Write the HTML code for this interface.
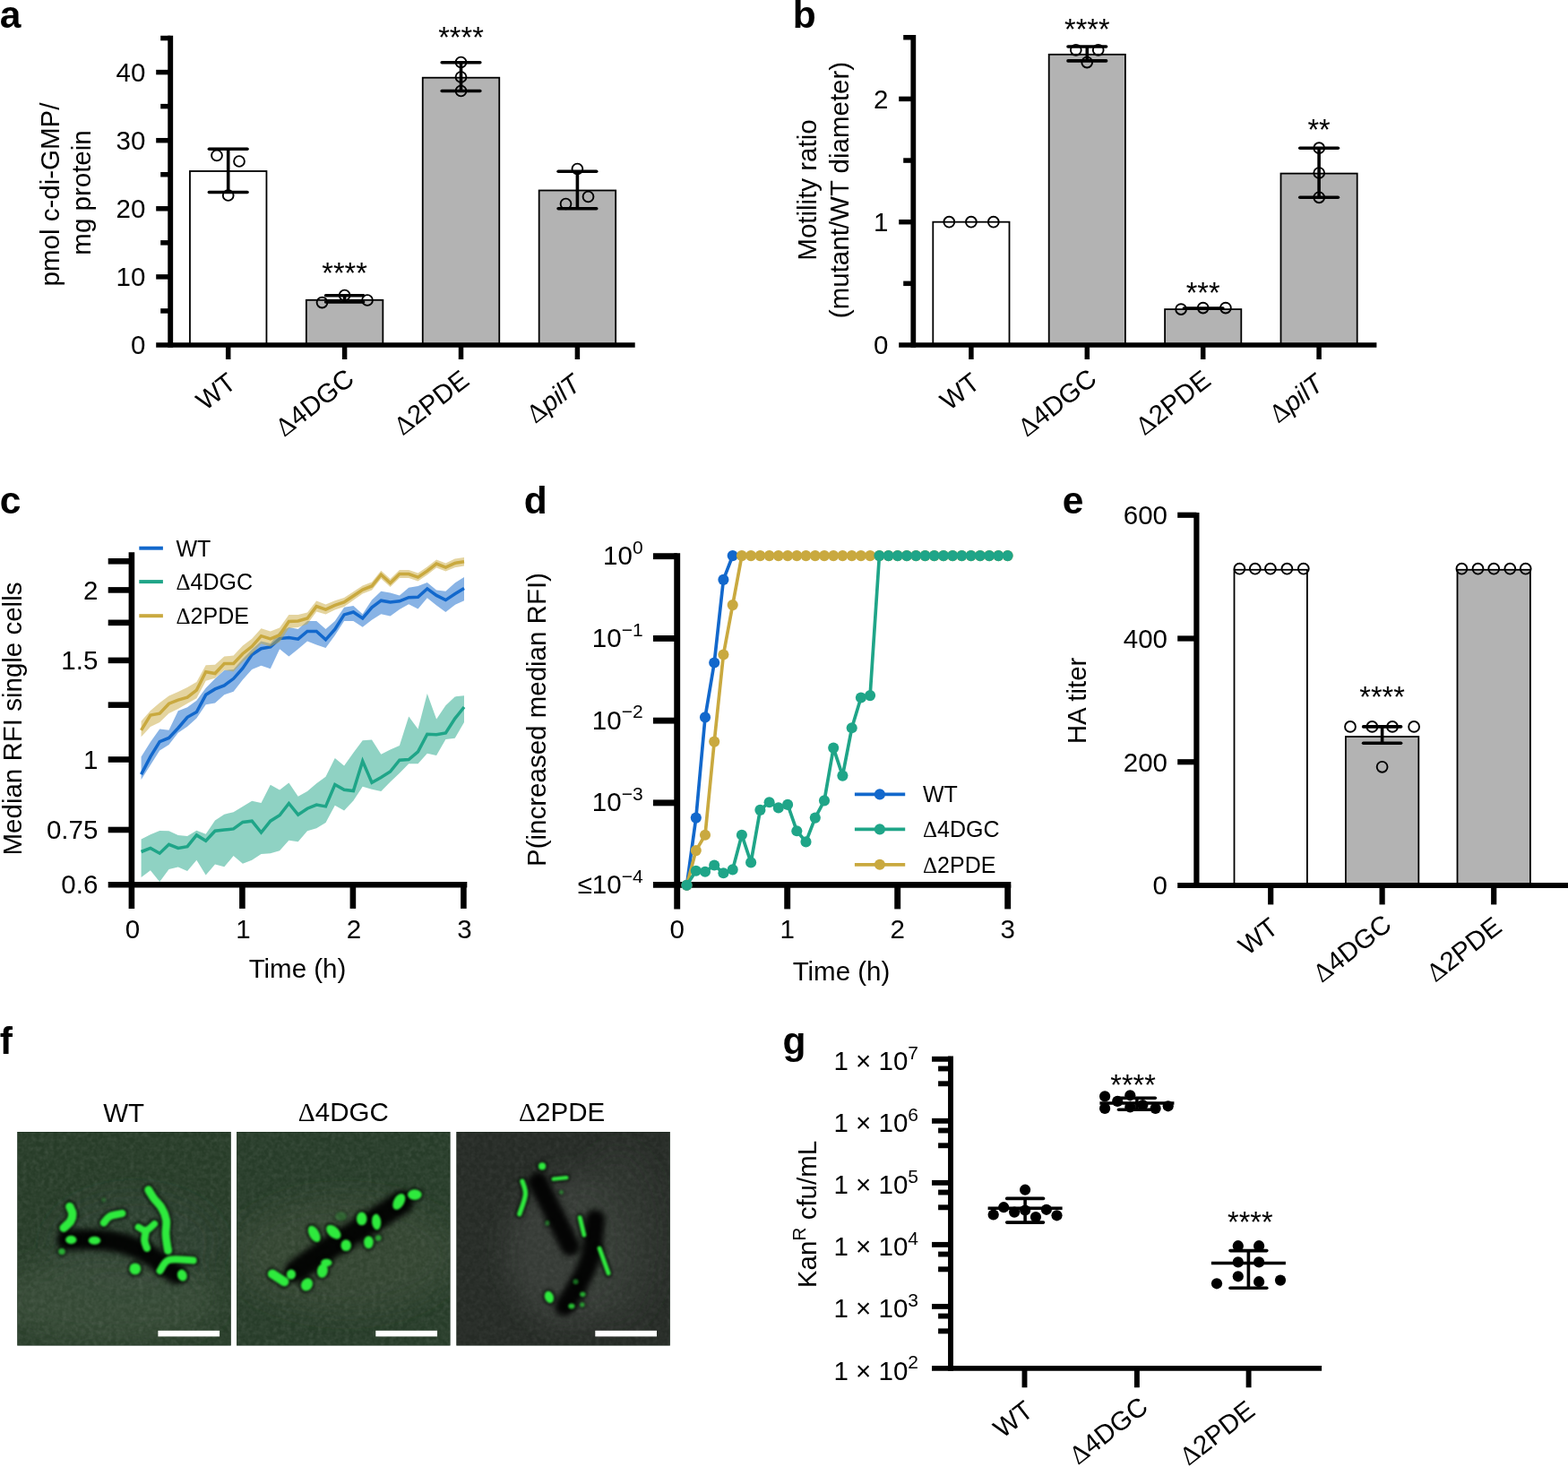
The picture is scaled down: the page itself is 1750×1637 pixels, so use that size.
<!DOCTYPE html>
<html lang="en"><head><meta charset="utf-8"><title>Figure</title>
<style>
html,body{margin:0;padding:0;background:#fff;}
body{width:1750px;height:1637px;overflow:hidden;}
svg{display:block;}
text{font-family:"Liberation Sans",sans-serif;fill:#000;}
</style></head><body>
<svg width="1750" height="1637" viewBox="0 0 1750 1637">
<rect width="1750" height="1637" fill="#fff"/>
<text x="-0.30" y="30.80" font-size="42.5" text-anchor="start" font-weight="bold" >a</text>
<text x="884.70" y="30.80" font-size="42.5" text-anchor="start" font-weight="bold" >b</text>
<text x="-0.30" y="572.90" font-size="42.5" text-anchor="start" font-weight="bold" >c</text>
<text x="584.80" y="572.90" font-size="42.5" text-anchor="start" font-weight="bold" >d</text>
<text x="1185.80" y="572.90" font-size="42.5" text-anchor="start" font-weight="bold" >e</text>
<text x="-0.20" y="1175.80" font-size="42.5" text-anchor="start" font-weight="bold" >f</text>
<text x="873.60" y="1175.80" font-size="42.5" text-anchor="start" font-weight="bold" >g</text>
<rect x="211.95" y="191.00" width="85.50" height="194.00" fill="#fff" stroke="#000" stroke-width="1.8"/>
<rect x="341.85" y="334.80" width="85.50" height="50.20" fill="#b3b3b3" stroke="#000" stroke-width="1.8"/>
<rect x="471.75" y="86.70" width="85.50" height="298.30" fill="#b3b3b3" stroke="#000" stroke-width="1.8"/>
<rect x="601.65" y="212.50" width="85.50" height="172.50" fill="#b3b3b3" stroke="#000" stroke-width="1.8"/>
<line x1="190.20" y1="39.70" x2="190.20" y2="387.75" stroke="#000" stroke-width="5.9" stroke-linecap="butt"/>
<line x1="174.20" y1="385.00" x2="708.70" y2="385.00" stroke="#000" stroke-width="5.5" stroke-linecap="butt"/>
<text x="162.30" y="395.30" font-size="29.5" text-anchor="end" >0</text>
<line x1="179.20" y1="346.95" x2="190.20" y2="346.95" stroke="#000" stroke-width="5.5" stroke-linecap="butt"/>
<line x1="174.20" y1="308.90" x2="190.20" y2="308.90" stroke="#000" stroke-width="5.5" stroke-linecap="butt"/>
<text x="162.30" y="319.20" font-size="29.5" text-anchor="end" >10</text>
<line x1="179.20" y1="270.85" x2="190.20" y2="270.85" stroke="#000" stroke-width="5.5" stroke-linecap="butt"/>
<line x1="174.20" y1="232.80" x2="190.20" y2="232.80" stroke="#000" stroke-width="5.5" stroke-linecap="butt"/>
<text x="162.30" y="243.10" font-size="29.5" text-anchor="end" >20</text>
<line x1="179.20" y1="194.75" x2="190.20" y2="194.75" stroke="#000" stroke-width="5.5" stroke-linecap="butt"/>
<line x1="174.20" y1="156.70" x2="190.20" y2="156.70" stroke="#000" stroke-width="5.5" stroke-linecap="butt"/>
<text x="162.30" y="167.00" font-size="29.5" text-anchor="end" >30</text>
<line x1="179.20" y1="118.65" x2="190.20" y2="118.65" stroke="#000" stroke-width="5.5" stroke-linecap="butt"/>
<line x1="174.20" y1="80.60" x2="190.20" y2="80.60" stroke="#000" stroke-width="5.5" stroke-linecap="butt"/>
<text x="162.30" y="90.90" font-size="29.5" text-anchor="end" >40</text>
<line x1="179.20" y1="42.55" x2="190.20" y2="42.55" stroke="#000" stroke-width="5.5" stroke-linecap="butt"/>
<line x1="254.70" y1="385.00" x2="254.70" y2="401.00" stroke="#000" stroke-width="5.5" stroke-linecap="butt"/>
<line x1="384.60" y1="385.00" x2="384.60" y2="401.00" stroke="#000" stroke-width="5.5" stroke-linecap="butt"/>
<line x1="514.50" y1="385.00" x2="514.50" y2="401.00" stroke="#000" stroke-width="5.5" stroke-linecap="butt"/>
<line x1="644.40" y1="385.00" x2="644.40" y2="401.00" stroke="#000" stroke-width="5.5" stroke-linecap="butt"/>
<line x1="254.70" y1="166.20" x2="254.70" y2="214.50" stroke="#000" stroke-width="3.6" stroke-linecap="butt"/>
<line x1="233.40" y1="166.20" x2="276.00" y2="166.20" stroke="#000" stroke-width="3.6" stroke-linecap="round"/>
<line x1="233.40" y1="214.50" x2="276.00" y2="214.50" stroke="#000" stroke-width="3.6" stroke-linecap="round"/>
<circle cx="242.00" cy="173.50" r="5.9" fill="none" stroke="#000" stroke-width="1.9"/>
<circle cx="267.00" cy="180.00" r="5.9" fill="none" stroke="#000" stroke-width="1.9"/>
<circle cx="254.70" cy="218.00" r="5.9" fill="none" stroke="#000" stroke-width="1.9"/>
<line x1="384.60" y1="329.80" x2="384.60" y2="337.00" stroke="#000" stroke-width="3.6" stroke-linecap="butt"/>
<line x1="363.60" y1="329.80" x2="405.60" y2="329.80" stroke="#000" stroke-width="3.6" stroke-linecap="round"/>
<line x1="363.60" y1="337.00" x2="405.60" y2="337.00" stroke="#000" stroke-width="3.6" stroke-linecap="round"/>
<circle cx="359.50" cy="337.60" r="5.9" fill="none" stroke="#000" stroke-width="1.9"/>
<circle cx="384.60" cy="329.50" r="5.9" fill="none" stroke="#000" stroke-width="1.9"/>
<circle cx="410.00" cy="335.00" r="5.9" fill="none" stroke="#000" stroke-width="1.9"/>
<line x1="514.50" y1="69.80" x2="514.50" y2="101.50" stroke="#000" stroke-width="3.6" stroke-linecap="butt"/>
<line x1="493.20" y1="69.80" x2="535.80" y2="69.80" stroke="#000" stroke-width="3.6" stroke-linecap="round"/>
<line x1="493.20" y1="101.50" x2="535.80" y2="101.50" stroke="#000" stroke-width="3.6" stroke-linecap="round"/>
<circle cx="514.50" cy="69.50" r="5.9" fill="none" stroke="#000" stroke-width="1.9"/>
<circle cx="514.50" cy="86.00" r="5.9" fill="none" stroke="#000" stroke-width="1.9"/>
<circle cx="514.50" cy="101.50" r="5.9" fill="none" stroke="#000" stroke-width="1.9"/>
<line x1="644.40" y1="191.30" x2="644.40" y2="232.80" stroke="#000" stroke-width="3.6" stroke-linecap="butt"/>
<line x1="623.10" y1="191.30" x2="665.70" y2="191.30" stroke="#000" stroke-width="3.6" stroke-linecap="round"/>
<line x1="623.10" y1="232.80" x2="665.70" y2="232.80" stroke="#000" stroke-width="3.6" stroke-linecap="round"/>
<circle cx="644.40" cy="188.50" r="5.9" fill="none" stroke="#000" stroke-width="1.9"/>
<circle cx="631.50" cy="227.50" r="5.9" fill="none" stroke="#000" stroke-width="1.9"/>
<circle cx="656.50" cy="219.50" r="5.9" fill="none" stroke="#000" stroke-width="1.9"/>
<text x="384.60" y="315.50" font-size="32.5" text-anchor="middle" >****</text>
<text x="514.50" y="53.00" font-size="32.5" text-anchor="middle" >****</text>
<text x="0" y="0" transform="translate(66.00 217.00) rotate(-90)" font-size="29.5" text-anchor="middle" >pmol c-di-GMP/</text>
<text x="0" y="0" transform="translate(100.60 215.00) rotate(-90)" font-size="29.5" text-anchor="middle" >mg protein</text>
<text x="0" y="0" transform="translate(265.20 430.80) rotate(-37.8)" font-size="29.5" text-anchor="end" >WT</text>
<text x="0" y="0" transform="translate(397.10 426.30) rotate(-37.8)" font-size="29.5" text-anchor="end" ><tspan font-family="Liberation Serif, serif">Δ</tspan>4DGC</text>
<text x="0" y="0" transform="translate(525.50 427.80) rotate(-37.8)" font-size="29.5" text-anchor="end" ><tspan font-family="Liberation Serif, serif">Δ</tspan>2PDE</text>
<text x="0" y="0" transform="translate(650.00 432.40) rotate(-37.8)" font-size="29.5" text-anchor="end" ><tspan font-family="Liberation Serif, serif">Δ</tspan><tspan font-style="italic">pilT</tspan></text>
<rect x="1041.30" y="247.70" width="85.20" height="137.30" fill="#fff" stroke="#000" stroke-width="1.8"/>
<rect x="1170.70" y="60.80" width="85.20" height="324.20" fill="#b3b3b3" stroke="#000" stroke-width="1.8"/>
<rect x="1300.10" y="345.10" width="85.20" height="39.90" fill="#b3b3b3" stroke="#000" stroke-width="1.8"/>
<rect x="1429.50" y="193.60" width="85.20" height="191.40" fill="#b3b3b3" stroke="#000" stroke-width="1.8"/>
<line x1="1019.30" y1="38.90" x2="1019.30" y2="387.75" stroke="#000" stroke-width="5.8" stroke-linecap="butt"/>
<line x1="1003.20" y1="385.00" x2="1536.40" y2="385.00" stroke="#000" stroke-width="5.5" stroke-linecap="butt"/>
<text x="991.50" y="395.30" font-size="29.5" text-anchor="end" >0</text>
<line x1="1008.20" y1="316.35" x2="1019.30" y2="316.35" stroke="#000" stroke-width="5.5" stroke-linecap="butt"/>
<line x1="1003.20" y1="247.70" x2="1019.30" y2="247.70" stroke="#000" stroke-width="5.5" stroke-linecap="butt"/>
<text x="991.50" y="258.00" font-size="29.5" text-anchor="end" >1</text>
<line x1="1008.20" y1="179.05" x2="1019.30" y2="179.05" stroke="#000" stroke-width="5.5" stroke-linecap="butt"/>
<line x1="1003.20" y1="110.40" x2="1019.30" y2="110.40" stroke="#000" stroke-width="5.5" stroke-linecap="butt"/>
<text x="991.50" y="120.70" font-size="29.5" text-anchor="end" >2</text>
<line x1="1008.20" y1="41.75" x2="1019.30" y2="41.75" stroke="#000" stroke-width="5.5" stroke-linecap="butt"/>
<line x1="1083.90" y1="385.00" x2="1083.90" y2="401.00" stroke="#000" stroke-width="5.5" stroke-linecap="butt"/>
<line x1="1213.30" y1="385.00" x2="1213.30" y2="401.00" stroke="#000" stroke-width="5.5" stroke-linecap="butt"/>
<line x1="1342.70" y1="385.00" x2="1342.70" y2="401.00" stroke="#000" stroke-width="5.5" stroke-linecap="butt"/>
<line x1="1472.10" y1="385.00" x2="1472.10" y2="401.00" stroke="#000" stroke-width="5.5" stroke-linecap="butt"/>
<circle cx="1059.30" cy="247.70" r="5.9" fill="none" stroke="#000" stroke-width="1.9"/>
<circle cx="1083.90" cy="247.70" r="5.9" fill="none" stroke="#000" stroke-width="1.9"/>
<circle cx="1108.80" cy="247.70" r="5.9" fill="none" stroke="#000" stroke-width="1.9"/>
<line x1="1213.30" y1="52.00" x2="1213.30" y2="67.90" stroke="#000" stroke-width="3.6" stroke-linecap="butt"/>
<line x1="1192.00" y1="52.00" x2="1234.60" y2="52.00" stroke="#000" stroke-width="3.6" stroke-linecap="round"/>
<line x1="1192.00" y1="67.90" x2="1234.60" y2="67.90" stroke="#000" stroke-width="3.6" stroke-linecap="round"/>
<circle cx="1200.80" cy="55.80" r="5.9" fill="none" stroke="#000" stroke-width="1.9"/>
<circle cx="1225.70" cy="55.80" r="5.9" fill="none" stroke="#000" stroke-width="1.9"/>
<circle cx="1213.20" cy="69.60" r="5.9" fill="none" stroke="#000" stroke-width="1.9"/>
<line x1="1321.40" y1="344.10" x2="1364.90" y2="344.10" stroke="#000" stroke-width="3.6" stroke-linecap="round"/>
<circle cx="1318.10" cy="345.10" r="5.9" fill="none" stroke="#000" stroke-width="1.9"/>
<circle cx="1342.70" cy="343.60" r="5.9" fill="none" stroke="#000" stroke-width="1.9"/>
<circle cx="1367.90" cy="343.60" r="5.9" fill="none" stroke="#000" stroke-width="1.9"/>
<line x1="1472.10" y1="165.20" x2="1472.10" y2="220.30" stroke="#000" stroke-width="3.6" stroke-linecap="butt"/>
<line x1="1450.80" y1="165.20" x2="1493.40" y2="165.20" stroke="#000" stroke-width="3.6" stroke-linecap="round"/>
<line x1="1450.80" y1="220.30" x2="1493.40" y2="220.30" stroke="#000" stroke-width="3.6" stroke-linecap="round"/>
<circle cx="1472.20" cy="165.20" r="5.9" fill="none" stroke="#000" stroke-width="1.9"/>
<circle cx="1472.20" cy="193.00" r="5.9" fill="none" stroke="#000" stroke-width="1.9"/>
<circle cx="1472.20" cy="220.30" r="5.9" fill="none" stroke="#000" stroke-width="1.9"/>
<text x="1213.30" y="44.00" font-size="32.5" text-anchor="middle" >****</text>
<text x="1342.70" y="337.50" font-size="32.5" text-anchor="middle" >***</text>
<text x="1472.10" y="155.50" font-size="32.5" text-anchor="middle" >**</text>
<text x="0" y="0" transform="translate(911.00 212.00) rotate(-90)" font-size="29.5" text-anchor="middle" >Motility ratio</text>
<text x="0" y="0" transform="translate(947.00 212.00) rotate(-90)" font-size="29.5" text-anchor="middle" >(mutant/WT diameter)</text>
<text x="0" y="0" transform="translate(1095.40 430.80) rotate(-37.8)" font-size="29.5" text-anchor="end" >WT</text>
<text x="0" y="0" transform="translate(1225.80 426.30) rotate(-37.8)" font-size="29.5" text-anchor="end" ><tspan font-family="Liberation Serif, serif">Δ</tspan>4DGC</text>
<text x="0" y="0" transform="translate(1353.20 427.80) rotate(-37.8)" font-size="29.5" text-anchor="end" ><tspan font-family="Liberation Serif, serif">Δ</tspan>2PDE</text>
<text x="0" y="0" transform="translate(1479.10 432.10) rotate(-37.8)" font-size="29.5" text-anchor="end" ><tspan font-family="Liberation Serif, serif">Δ</tspan><tspan font-style="italic">pilT</tspan></text>
<polygon points="157.6,844.4 167.9,828.1 178.2,813.6 188.5,814.8 198.8,793.3 209.1,789.2 219.4,781.7 229.7,767.8 240.0,757.3 250.3,748.0 260.6,746.9 270.9,735.3 281.2,724.8 291.5,715.5 301.8,717.9 312.1,705.1 322.4,699.9 332.7,702.1 343.0,692.9 353.2,692.9 363.5,702.1 373.8,692.9 384.1,677.8 394.4,676.0 404.7,685.3 415.0,669.6 425.3,659.8 435.6,661.5 445.9,664.4 456.2,655.7 466.5,654.0 476.8,649.9 487.1,658.6 497.4,659.8 507.7,650.5 518.0,644.1 518.0,670.2 507.7,674.9 497.4,683.0 487.1,675.4 476.8,667.3 466.5,679.5 456.2,674.3 445.9,680.1 435.6,687.6 425.3,685.3 415.0,691.7 404.7,699.8 394.4,692.9 384.1,692.9 373.8,709.1 363.5,723.0 353.2,719.6 343.0,715.5 332.7,724.2 322.4,732.4 312.1,724.2 301.8,746.3 291.5,742.8 281.2,746.9 270.9,758.5 260.6,771.8 250.3,775.3 240.0,784.6 229.7,786.3 219.4,801.4 209.1,810.7 198.8,817.7 188.5,831.0 178.2,837.4 167.9,853.7 157.6,869.9" fill="#1268cc" fill-opacity="0.5"/>
<polyline points="157.6,864.1 167.9,844.4 178.2,827.6 188.5,823.5 198.8,812.5 209.1,800.3 219.4,794.5 229.7,775.3 240.0,768.9 250.3,764.9 260.6,757.3 270.9,745.7 281.2,730.6 291.5,723.7 301.8,721.9 312.1,712.6 322.4,711.5 332.7,713.2 343.0,704.5 353.2,704.5 363.5,713.8 373.8,702.1 384.1,685.9 394.4,683.0 404.7,690.0 415.0,677.8 425.3,670.2 435.6,672.0 445.9,670.8 456.2,666.7 466.5,666.2 476.8,656.9 487.1,664.4 497.4,669.6 507.7,662.7 518.0,656.6" fill="none" stroke="#1268cc" stroke-width="3.5" stroke-linejoin="miter" stroke-linecap="butt"/>
<polygon points="157.6,936.5 167.9,931.3 178.2,927.0 188.5,927.2 198.8,931.9 209.1,933.0 219.4,926.7 229.7,930.7 240.0,915.6 250.3,908.7 260.6,906.3 270.9,900.0 281.2,893.8 291.5,895.9 301.8,875.8 312.1,881.4 322.4,873.6 332.7,888.8 343.0,883.0 353.2,874.3 363.5,866.8 373.8,845.9 384.1,854.6 394.4,840.1 404.7,826.2 415.0,825.6 425.3,841.8 435.6,836.6 445.9,832.0 456.2,799.5 466.5,813.4 476.8,773.9 487.1,802.4 497.4,787.3 507.7,777.4 518.0,776.3 518.0,805.9 507.7,823.8 497.4,825.0 487.1,843.0 476.8,840.7 466.5,852.3 456.2,852.3 445.9,862.7 435.6,872.6 425.3,883.0 415.0,880.7 404.7,877.8 394.4,893.5 384.1,904.5 373.8,898.7 363.5,917.9 353.2,924.2 343.0,927.2 332.7,939.3 322.4,937.7 312.1,949.3 301.8,952.2 291.5,953.0 281.2,959.7 270.9,963.8 260.6,955.1 250.3,967.3 240.0,964.4 229.7,976.6 219.4,959.7 209.1,971.9 198.8,967.5 188.5,970.0 178.2,984.1 167.9,971.3 157.6,978.9" fill="#1fa588" fill-opacity="0.5"/>
<polyline points="157.6,950.5 167.9,946.4 178.2,952.2 188.5,942.3 198.8,946.4 209.1,944.6 219.4,931.9 229.7,938.3 240.0,927.2 250.3,926.1 260.6,924.9 270.9,917.4 281.2,916.2 291.5,929.0 301.8,916.2 312.1,909.8 322.4,896.5 332.7,909.2 343.0,902.2 353.2,898.1 363.5,899.9 373.8,875.5 384.1,881.3 394.4,882.5 404.7,849.4 415.0,873.2 425.3,867.4 435.6,861.0 445.9,848.2 456.2,847.6 466.5,838.9 476.8,819.2 487.1,819.8 497.4,818.0 507.7,801.8 518.0,789.0" fill="none" stroke="#1fa588" stroke-width="3.5" stroke-linejoin="miter" stroke-linecap="butt"/>
<polygon points="157.6,804.8 167.9,793.0 178.2,784.2 188.5,776.4 198.8,772.0 209.1,766.9 219.4,761.0 229.7,742.3 240.0,741.8 250.3,732.6 260.6,731.5 270.9,720.5 281.2,712.8 291.5,701.2 301.8,704.4 312.1,700.6 322.4,686.0 332.7,685.9 343.0,683.5 353.2,670.6 363.5,674.6 373.8,670.2 384.1,667.0 394.4,660.2 404.7,653.4 415.0,649.5 425.3,636.7 435.6,646.0 445.9,636.1 456.2,636.1 466.5,639.6 476.8,632.6 487.1,624.5 497.4,628.6 507.7,623.6 518.0,621.9 518.0,631.5 507.7,633.2 497.4,637.6 487.1,633.5 476.8,641.6 466.5,648.6 456.2,645.1 445.9,645.1 435.6,655.0 425.3,645.7 415.0,658.5 404.7,662.6 394.4,669.8 384.1,677.0 373.8,680.6 363.5,685.6 353.2,682.6 343.0,696.5 332.7,699.9 322.4,701.0 312.1,716.6 301.8,721.4 291.5,718.2 281.2,729.8 270.9,738.5 260.6,749.5 250.3,747.7 240.0,756.8 229.7,759.8 219.4,779.2 209.1,785.1 198.8,791.1 188.5,795.9 178.2,805.9 167.9,810.9 157.6,822.3" fill="#c9a93f" fill-opacity="0.5"/>
<polyline points="157.6,814.8 167.9,798.0 178.2,796.2 188.5,785.2 198.8,781.1 209.1,778.2 219.4,770.1 229.7,749.8 240.0,751.5 250.3,740.5 260.6,740.5 270.9,729.5 281.2,721.3 291.5,709.7 301.8,712.9 312.1,708.6 322.4,693.5 332.7,692.9 343.0,690.0 353.2,676.6 363.5,680.1 373.8,675.4 384.1,672.0 394.4,665.0 404.7,658.0 415.0,654.0 425.3,641.2 435.6,650.5 445.9,640.6 456.2,640.6 466.5,644.1 476.8,637.1 487.1,629.0 497.4,633.1 507.7,628.4 518.0,626.7" fill="none" stroke="#c9a93f" stroke-width="3.5" stroke-linejoin="miter" stroke-linecap="butt"/>
<line x1="146.90" y1="616.20" x2="146.90" y2="1013.90" stroke="#000" stroke-width="6.6" stroke-linecap="butt"/>
<line x1="120.70" y1="987.30" x2="521.30" y2="987.30" stroke="#000" stroke-width="6.6" stroke-linecap="butt"/>
<line x1="120.70" y1="925.98" x2="146.90" y2="925.98" stroke="#000" stroke-width="6.6" stroke-linecap="butt"/>
<line x1="120.70" y1="847.50" x2="146.90" y2="847.50" stroke="#000" stroke-width="6.6" stroke-linecap="butt"/>
<line x1="120.70" y1="786.63" x2="146.90" y2="786.63" stroke="#000" stroke-width="6.6" stroke-linecap="butt"/>
<line x1="120.70" y1="736.89" x2="146.90" y2="736.89" stroke="#000" stroke-width="6.6" stroke-linecap="butt"/>
<line x1="120.70" y1="694.84" x2="146.90" y2="694.84" stroke="#000" stroke-width="6.6" stroke-linecap="butt"/>
<line x1="120.70" y1="658.41" x2="146.90" y2="658.41" stroke="#000" stroke-width="6.6" stroke-linecap="butt"/>
<line x1="120.70" y1="626.28" x2="146.90" y2="626.28" stroke="#000" stroke-width="6.6" stroke-linecap="butt"/>
<text x="109.30" y="997.15" font-size="29.5" text-anchor="end" >0.6</text>
<text x="109.30" y="936.28" font-size="29.5" text-anchor="end" >0.75</text>
<text x="109.30" y="857.80" font-size="29.5" text-anchor="end" >1</text>
<text x="109.30" y="747.19" font-size="29.5" text-anchor="end" >1.5</text>
<text x="109.30" y="668.71" font-size="29.5" text-anchor="end" >2</text>
<line x1="270.40" y1="987.30" x2="270.40" y2="1013.90" stroke="#000" stroke-width="6.6" stroke-linecap="butt"/>
<line x1="393.90" y1="987.30" x2="393.90" y2="1013.90" stroke="#000" stroke-width="6.6" stroke-linecap="butt"/>
<line x1="517.40" y1="987.30" x2="517.40" y2="1013.90" stroke="#000" stroke-width="6.6" stroke-linecap="butt"/>
<text x="147.90" y="1046.60" font-size="29.5" text-anchor="middle" >0</text>
<text x="271.40" y="1046.60" font-size="29.5" text-anchor="middle" >1</text>
<text x="394.90" y="1046.60" font-size="29.5" text-anchor="middle" >2</text>
<text x="518.40" y="1046.60" font-size="29.5" text-anchor="middle" >3</text>
<text x="332.00" y="1091.00" font-size="29.5" text-anchor="middle" >Time (h)</text>
<text x="0" y="0" transform="translate(23.50 802.00) rotate(-90)" font-size="29.5" text-anchor="middle" >Median RFI single cells</text>
<line x1="155.30" y1="611.70" x2="181.90" y2="611.70" stroke="#1268cc" stroke-width="4" stroke-linecap="butt"/>
<text x="196.50" y="620.70" font-size="25" text-anchor="start" >WT</text>
<line x1="155.30" y1="649.10" x2="181.90" y2="649.10" stroke="#1fa588" stroke-width="4" stroke-linecap="butt"/>
<text x="196.50" y="658.10" font-size="25" text-anchor="start" ><tspan font-family="Liberation Serif, serif">Δ</tspan>4DGC</text>
<line x1="155.30" y1="687.20" x2="181.90" y2="687.20" stroke="#c9a93f" stroke-width="4" stroke-linecap="butt"/>
<text x="196.50" y="696.20" font-size="25" text-anchor="start" ><tspan font-family="Liberation Serif, serif">Δ</tspan>2PDE</text>
<line x1="755.70" y1="617.20" x2="755.70" y2="1014.40" stroke="#000" stroke-width="6.9" stroke-linecap="butt"/>
<line x1="728.90" y1="987.40" x2="1128.30" y2="987.40" stroke="#000" stroke-width="6.9" stroke-linecap="butt"/>
<line x1="728.90" y1="620.70" x2="755.70" y2="620.70" stroke="#000" stroke-width="6.9" stroke-linecap="butt"/>
<line x1="728.90" y1="712.42" x2="755.70" y2="712.42" stroke="#000" stroke-width="6.9" stroke-linecap="butt"/>
<line x1="728.90" y1="804.14" x2="755.70" y2="804.14" stroke="#000" stroke-width="6.9" stroke-linecap="butt"/>
<line x1="728.90" y1="895.86" x2="755.70" y2="895.86" stroke="#000" stroke-width="6.9" stroke-linecap="butt"/>
<line x1="878.70" y1="987.40" x2="878.70" y2="1014.40" stroke="#000" stroke-width="6.9" stroke-linecap="butt"/>
<line x1="1001.70" y1="987.40" x2="1001.70" y2="1014.40" stroke="#000" stroke-width="6.9" stroke-linecap="butt"/>
<line x1="1124.70" y1="987.40" x2="1124.70" y2="1014.40" stroke="#000" stroke-width="6.9" stroke-linecap="butt"/>
<polyline points="766.5,987.8 776.8,912.6 787.0,800.4 797.2,739.5 807.4,646.9 817.7,620.1" fill="none" stroke="#1268cc" stroke-width="3.7" stroke-linejoin="round"/>
<circle cx="766.5" cy="987.8" r="6.05" fill="#1268cc"/>
<circle cx="776.8" cy="912.6" r="6.05" fill="#1268cc"/>
<circle cx="787.0" cy="800.4" r="6.05" fill="#1268cc"/>
<circle cx="797.2" cy="739.5" r="6.05" fill="#1268cc"/>
<circle cx="807.4" cy="646.9" r="6.05" fill="#1268cc"/>
<circle cx="817.7" cy="620.1" r="6.05" fill="#1268cc"/>
<polyline points="766.5,987.8 776.8,949.1 787.0,931.7 797.2,827.6 807.4,730.5 817.7,675.1 827.9,620.1 838.1,620.1 848.4,620.1 858.6,620.1 868.8,620.1 879.1,620.1 889.3,620.1 899.5,620.1 909.8,620.1 920.0,620.1 930.2,620.1 940.4,620.1 950.7,620.1 960.9,620.1 971.1,620.1 981.4,620.1 991.6,620.1 1001.8,620.1 1012.0,620.1 1022.3,620.1 1032.5,620.1 1042.7,620.1 1053.0,620.1 1063.2,620.1 1073.4,620.1 1083.7,620.1 1093.9,620.1 1104.1,620.1 1114.3,620.1 1124.6,620.1" fill="none" stroke="#c9a93f" stroke-width="3.7" stroke-linejoin="round"/>
<circle cx="766.5" cy="987.8" r="6.05" fill="#c9a93f"/>
<circle cx="776.8" cy="949.1" r="6.05" fill="#c9a93f"/>
<circle cx="787.0" cy="931.7" r="6.05" fill="#c9a93f"/>
<circle cx="797.2" cy="827.6" r="6.05" fill="#c9a93f"/>
<circle cx="807.4" cy="730.5" r="6.05" fill="#c9a93f"/>
<circle cx="817.7" cy="675.1" r="6.05" fill="#c9a93f"/>
<circle cx="827.9" cy="620.1" r="6.05" fill="#c9a93f"/>
<circle cx="838.1" cy="620.1" r="6.05" fill="#c9a93f"/>
<circle cx="848.4" cy="620.1" r="6.05" fill="#c9a93f"/>
<circle cx="858.6" cy="620.1" r="6.05" fill="#c9a93f"/>
<circle cx="868.8" cy="620.1" r="6.05" fill="#c9a93f"/>
<circle cx="879.1" cy="620.1" r="6.05" fill="#c9a93f"/>
<circle cx="889.3" cy="620.1" r="6.05" fill="#c9a93f"/>
<circle cx="899.5" cy="620.1" r="6.05" fill="#c9a93f"/>
<circle cx="909.8" cy="620.1" r="6.05" fill="#c9a93f"/>
<circle cx="920.0" cy="620.1" r="6.05" fill="#c9a93f"/>
<circle cx="930.2" cy="620.1" r="6.05" fill="#c9a93f"/>
<circle cx="940.4" cy="620.1" r="6.05" fill="#c9a93f"/>
<circle cx="950.7" cy="620.1" r="6.05" fill="#c9a93f"/>
<circle cx="960.9" cy="620.1" r="6.05" fill="#c9a93f"/>
<circle cx="971.1" cy="620.1" r="6.05" fill="#c9a93f"/>
<circle cx="981.4" cy="620.1" r="6.05" fill="#c9a93f"/>
<circle cx="991.6" cy="620.1" r="6.05" fill="#c9a93f"/>
<circle cx="1001.8" cy="620.1" r="6.05" fill="#c9a93f"/>
<circle cx="1012.0" cy="620.1" r="6.05" fill="#c9a93f"/>
<circle cx="1022.3" cy="620.1" r="6.05" fill="#c9a93f"/>
<circle cx="1032.5" cy="620.1" r="6.05" fill="#c9a93f"/>
<circle cx="1042.7" cy="620.1" r="6.05" fill="#c9a93f"/>
<circle cx="1053.0" cy="620.1" r="6.05" fill="#c9a93f"/>
<circle cx="1063.2" cy="620.1" r="6.05" fill="#c9a93f"/>
<circle cx="1073.4" cy="620.1" r="6.05" fill="#c9a93f"/>
<circle cx="1083.7" cy="620.1" r="6.05" fill="#c9a93f"/>
<circle cx="1093.9" cy="620.1" r="6.05" fill="#c9a93f"/>
<circle cx="1104.1" cy="620.1" r="6.05" fill="#c9a93f"/>
<circle cx="1114.3" cy="620.1" r="6.05" fill="#c9a93f"/>
<circle cx="1124.6" cy="620.1" r="6.05" fill="#c9a93f"/>
<polyline points="766.5,987.8 776.8,971.8 787.0,972.8 797.2,965.5 807.4,974.2 817.7,970.4 827.9,931.7 838.1,962.4 848.4,903.9 858.6,895.2 868.8,901.4 879.1,897.9 889.3,927.2 899.5,939.4 909.8,912.6 920.0,893.4 930.2,834.6 940.4,865.6 950.7,812.3 960.9,778.5 971.1,776.1 981.4,620.1 991.6,620.1 1001.8,620.1 1012.0,620.1 1022.3,620.1 1032.5,620.1 1042.7,620.1 1053.0,620.1 1063.2,620.1 1073.4,620.1 1083.7,620.1 1093.9,620.1 1104.1,620.1 1114.3,620.1 1124.6,620.1" fill="none" stroke="#1fa588" stroke-width="3.7" stroke-linejoin="round"/>
<circle cx="766.5" cy="987.8" r="6.05" fill="#1fa588"/>
<circle cx="776.8" cy="971.8" r="6.05" fill="#1fa588"/>
<circle cx="787.0" cy="972.8" r="6.05" fill="#1fa588"/>
<circle cx="797.2" cy="965.5" r="6.05" fill="#1fa588"/>
<circle cx="807.4" cy="974.2" r="6.05" fill="#1fa588"/>
<circle cx="817.7" cy="970.4" r="6.05" fill="#1fa588"/>
<circle cx="827.9" cy="931.7" r="6.05" fill="#1fa588"/>
<circle cx="838.1" cy="962.4" r="6.05" fill="#1fa588"/>
<circle cx="848.4" cy="903.9" r="6.05" fill="#1fa588"/>
<circle cx="858.6" cy="895.2" r="6.05" fill="#1fa588"/>
<circle cx="868.8" cy="901.4" r="6.05" fill="#1fa588"/>
<circle cx="879.1" cy="897.9" r="6.05" fill="#1fa588"/>
<circle cx="889.3" cy="927.2" r="6.05" fill="#1fa588"/>
<circle cx="899.5" cy="939.4" r="6.05" fill="#1fa588"/>
<circle cx="909.8" cy="912.6" r="6.05" fill="#1fa588"/>
<circle cx="920.0" cy="893.4" r="6.05" fill="#1fa588"/>
<circle cx="930.2" cy="834.6" r="6.05" fill="#1fa588"/>
<circle cx="940.4" cy="865.6" r="6.05" fill="#1fa588"/>
<circle cx="950.7" cy="812.3" r="6.05" fill="#1fa588"/>
<circle cx="960.9" cy="778.5" r="6.05" fill="#1fa588"/>
<circle cx="971.1" cy="776.1" r="6.05" fill="#1fa588"/>
<circle cx="981.4" cy="620.1" r="6.05" fill="#1fa588"/>
<circle cx="991.6" cy="620.1" r="6.05" fill="#1fa588"/>
<circle cx="1001.8" cy="620.1" r="6.05" fill="#1fa588"/>
<circle cx="1012.0" cy="620.1" r="6.05" fill="#1fa588"/>
<circle cx="1022.3" cy="620.1" r="6.05" fill="#1fa588"/>
<circle cx="1032.5" cy="620.1" r="6.05" fill="#1fa588"/>
<circle cx="1042.7" cy="620.1" r="6.05" fill="#1fa588"/>
<circle cx="1053.0" cy="620.1" r="6.05" fill="#1fa588"/>
<circle cx="1063.2" cy="620.1" r="6.05" fill="#1fa588"/>
<circle cx="1073.4" cy="620.1" r="6.05" fill="#1fa588"/>
<circle cx="1083.7" cy="620.1" r="6.05" fill="#1fa588"/>
<circle cx="1093.9" cy="620.1" r="6.05" fill="#1fa588"/>
<circle cx="1104.1" cy="620.1" r="6.05" fill="#1fa588"/>
<circle cx="1114.3" cy="620.1" r="6.05" fill="#1fa588"/>
<circle cx="1124.6" cy="620.1" r="6.05" fill="#1fa588"/>
<text x="755.70" y="1047.30" font-size="29.5" text-anchor="middle" >0</text>
<text x="878.70" y="1047.30" font-size="29.5" text-anchor="middle" >1</text>
<text x="1001.70" y="1047.30" font-size="29.5" text-anchor="middle" >2</text>
<text x="1124.70" y="1047.30" font-size="29.5" text-anchor="middle" >3</text>
<text x="939.00" y="1093.60" font-size="29.5" text-anchor="middle" >Time (h)</text>
<text x="0" y="0" transform="translate(609.00 803.00) rotate(-90)" font-size="29.5" text-anchor="middle" >P(increased median RFI)</text>
<text x="717.6" y="630.30" font-size="29.5" text-anchor="end">10<tspan font-size="21" dy="-12.3">0</tspan></text>
<text x="717.6" y="722.02" font-size="29.5" text-anchor="end">10<tspan font-size="21" dy="-12.3">−1</tspan></text>
<text x="717.6" y="813.74" font-size="29.5" text-anchor="end">10<tspan font-size="21" dy="-12.3">−2</tspan></text>
<text x="717.6" y="905.46" font-size="29.5" text-anchor="end">10<tspan font-size="21" dy="-12.3">−3</tspan></text>
<text x="717.6" y="997.18" font-size="29.5" text-anchor="end">≤10<tspan font-size="21" dy="-12.3">−4</tspan></text>
<line x1="953.90" y1="886.40" x2="1010.20" y2="886.40" stroke="#1268cc" stroke-width="3.7" stroke-linecap="butt"/>
<circle cx="981.9" cy="886.4" r="6.05" fill="#1268cc"/>
<text x="1030.00" y="895.40" font-size="25" text-anchor="start" >WT</text>
<line x1="953.90" y1="925.40" x2="1010.20" y2="925.40" stroke="#1fa588" stroke-width="3.7" stroke-linecap="butt"/>
<circle cx="981.9" cy="925.4" r="6.05" fill="#1fa588"/>
<text x="1030.00" y="934.40" font-size="25" text-anchor="start" ><tspan font-family="Liberation Serif, serif">Δ</tspan>4DGC</text>
<line x1="953.90" y1="964.80" x2="1010.20" y2="964.80" stroke="#c9a93f" stroke-width="3.7" stroke-linecap="butt"/>
<circle cx="981.9" cy="964.8" r="6.05" fill="#c9a93f"/>
<text x="1030.00" y="973.80" font-size="25" text-anchor="start" ><tspan font-family="Liberation Serif, serif">Δ</tspan>2PDE</text>
<rect x="1377.50" y="635.80" width="81.40" height="352.20" fill="#fff" stroke="#000" stroke-width="1.8"/>
<rect x="1501.90" y="822.00" width="81.40" height="166.00" fill="#b3b3b3" stroke="#000" stroke-width="1.8"/>
<rect x="1626.50" y="635.80" width="81.40" height="352.20" fill="#b3b3b3" stroke="#000" stroke-width="1.8"/>
<line x1="1335.40" y1="572.00" x2="1335.40" y2="991.10" stroke="#000" stroke-width="6.2" stroke-linecap="butt"/>
<line x1="1314.20" y1="988.00" x2="1750.00" y2="988.00" stroke="#000" stroke-width="6.2" stroke-linecap="butt"/>
<text x="1303.00" y="998.30" font-size="29.5" text-anchor="end" >0</text>
<line x1="1314.20" y1="850.25" x2="1335.40" y2="850.25" stroke="#000" stroke-width="6.2" stroke-linecap="butt"/>
<text x="1303.00" y="860.55" font-size="29.5" text-anchor="end" >200</text>
<line x1="1314.20" y1="712.50" x2="1335.40" y2="712.50" stroke="#000" stroke-width="6.2" stroke-linecap="butt"/>
<text x="1303.00" y="722.80" font-size="29.5" text-anchor="end" >400</text>
<line x1="1314.20" y1="574.75" x2="1335.40" y2="574.75" stroke="#000" stroke-width="6.2" stroke-linecap="butt"/>
<text x="1303.00" y="585.05" font-size="29.5" text-anchor="end" >600</text>
<line x1="1418.20" y1="988.00" x2="1418.20" y2="1009.40" stroke="#000" stroke-width="6.2" stroke-linecap="butt"/>
<line x1="1542.60" y1="988.00" x2="1542.60" y2="1009.40" stroke="#000" stroke-width="6.2" stroke-linecap="butt"/>
<line x1="1667.20" y1="988.00" x2="1667.20" y2="1009.40" stroke="#000" stroke-width="6.2" stroke-linecap="butt"/>
<circle cx="1383.40" cy="634.70" r="5.9" fill="none" stroke="#000" stroke-width="1.9"/>
<circle cx="1400.80" cy="634.70" r="5.9" fill="none" stroke="#000" stroke-width="1.9"/>
<circle cx="1417.90" cy="634.70" r="5.9" fill="none" stroke="#000" stroke-width="1.9"/>
<circle cx="1436.40" cy="634.70" r="5.9" fill="none" stroke="#000" stroke-width="1.9"/>
<circle cx="1454.80" cy="634.70" r="5.9" fill="none" stroke="#000" stroke-width="1.9"/>
<circle cx="1631.40" cy="634.70" r="5.9" fill="none" stroke="#000" stroke-width="1.9"/>
<circle cx="1649.50" cy="634.70" r="5.9" fill="none" stroke="#000" stroke-width="1.9"/>
<circle cx="1667.20" cy="634.70" r="5.9" fill="none" stroke="#000" stroke-width="1.9"/>
<circle cx="1685.30" cy="634.70" r="5.9" fill="none" stroke="#000" stroke-width="1.9"/>
<circle cx="1702.70" cy="634.70" r="5.9" fill="none" stroke="#000" stroke-width="1.9"/>
<line x1="1542.60" y1="810.90" x2="1542.60" y2="829.30" stroke="#000" stroke-width="3.6" stroke-linecap="butt"/>
<line x1="1521.60" y1="810.90" x2="1563.60" y2="810.90" stroke="#000" stroke-width="3.6" stroke-linecap="round"/>
<line x1="1521.60" y1="829.30" x2="1563.60" y2="829.30" stroke="#000" stroke-width="3.6" stroke-linecap="round"/>
<circle cx="1507.00" cy="810.90" r="5.9" fill="none" stroke="#000" stroke-width="1.9"/>
<circle cx="1531.40" cy="810.90" r="5.9" fill="none" stroke="#000" stroke-width="1.9"/>
<circle cx="1554.00" cy="810.90" r="5.9" fill="none" stroke="#000" stroke-width="1.9"/>
<circle cx="1578.10" cy="810.90" r="5.9" fill="none" stroke="#000" stroke-width="1.9"/>
<circle cx="1542.60" cy="855.80" r="5.9" fill="none" stroke="#000" stroke-width="1.9"/>
<text x="1542.60" y="789.00" font-size="32.5" text-anchor="middle" >****</text>
<text x="0" y="0" transform="translate(1212.00 782.00) rotate(-90)" font-size="29.5" text-anchor="middle" >HA titer</text>
<text x="0" y="0" transform="translate(1428.50 1038.80) rotate(-37.8)" font-size="29.5" text-anchor="end" >WT</text>
<text x="0" y="0" transform="translate(1554.90 1035.30) rotate(-37.8)" font-size="29.5" text-anchor="end" ><tspan font-family="Liberation Serif, serif">Δ</tspan>4DGC</text>
<text x="0" y="0" transform="translate(1678.00 1037.80) rotate(-37.8)" font-size="29.5" text-anchor="end" ><tspan font-family="Liberation Serif, serif">Δ</tspan>2PDE</text>
<line x1="1061.00" y1="1178.50" x2="1061.00" y2="1529.85" stroke="#000" stroke-width="5.9" stroke-linecap="butt"/>
<line x1="1040.00" y1="1526.90" x2="1475.10" y2="1526.90" stroke="#000" stroke-width="5.9" stroke-linecap="butt"/>
<text x="1025.0" y="1539.50" font-size="29.5" text-anchor="end">1 × 10<tspan font-size="21" dy="-12.6">2</tspan></text>
<line x1="1047.10" y1="1485.35" x2="1061.00" y2="1485.35" stroke="#000" stroke-width="5.9" stroke-linecap="butt"/>
<line x1="1047.10" y1="1468.57" x2="1061.00" y2="1468.57" stroke="#000" stroke-width="5.9" stroke-linecap="butt"/>
<line x1="1040.00" y1="1457.88" x2="1061.00" y2="1457.88" stroke="#000" stroke-width="5.9" stroke-linecap="butt"/>
<text x="1025.0" y="1470.48" font-size="29.5" text-anchor="end">1 × 10<tspan font-size="21" dy="-12.6">3</tspan></text>
<line x1="1047.10" y1="1416.33" x2="1061.00" y2="1416.33" stroke="#000" stroke-width="5.9" stroke-linecap="butt"/>
<line x1="1047.10" y1="1399.55" x2="1061.00" y2="1399.55" stroke="#000" stroke-width="5.9" stroke-linecap="butt"/>
<line x1="1040.00" y1="1388.86" x2="1061.00" y2="1388.86" stroke="#000" stroke-width="5.9" stroke-linecap="butt"/>
<text x="1025.0" y="1401.46" font-size="29.5" text-anchor="end">1 × 10<tspan font-size="21" dy="-12.6">4</tspan></text>
<line x1="1047.10" y1="1347.31" x2="1061.00" y2="1347.31" stroke="#000" stroke-width="5.9" stroke-linecap="butt"/>
<line x1="1047.10" y1="1330.53" x2="1061.00" y2="1330.53" stroke="#000" stroke-width="5.9" stroke-linecap="butt"/>
<line x1="1040.00" y1="1319.84" x2="1061.00" y2="1319.84" stroke="#000" stroke-width="5.9" stroke-linecap="butt"/>
<text x="1025.0" y="1332.44" font-size="29.5" text-anchor="end">1 × 10<tspan font-size="21" dy="-12.6">5</tspan></text>
<line x1="1047.10" y1="1278.29" x2="1061.00" y2="1278.29" stroke="#000" stroke-width="5.9" stroke-linecap="butt"/>
<line x1="1047.10" y1="1261.51" x2="1061.00" y2="1261.51" stroke="#000" stroke-width="5.9" stroke-linecap="butt"/>
<line x1="1040.00" y1="1250.82" x2="1061.00" y2="1250.82" stroke="#000" stroke-width="5.9" stroke-linecap="butt"/>
<text x="1025.0" y="1263.42" font-size="29.5" text-anchor="end">1 × 10<tspan font-size="21" dy="-12.6">6</tspan></text>
<line x1="1047.10" y1="1209.27" x2="1061.00" y2="1209.27" stroke="#000" stroke-width="5.9" stroke-linecap="butt"/>
<line x1="1047.10" y1="1192.49" x2="1061.00" y2="1192.49" stroke="#000" stroke-width="5.9" stroke-linecap="butt"/>
<line x1="1040.00" y1="1181.80" x2="1061.00" y2="1181.80" stroke="#000" stroke-width="5.9" stroke-linecap="butt"/>
<text x="1025.0" y="1194.40" font-size="29.5" text-anchor="end">1 × 10<tspan font-size="21" dy="-12.6">7</tspan></text>
<line x1="1143.50" y1="1526.90" x2="1143.50" y2="1548.30" stroke="#000" stroke-width="5.9" stroke-linecap="butt"/>
<line x1="1268.90" y1="1526.90" x2="1268.90" y2="1548.30" stroke="#000" stroke-width="5.9" stroke-linecap="butt"/>
<line x1="1393.60" y1="1526.90" x2="1393.60" y2="1548.30" stroke="#000" stroke-width="5.9" stroke-linecap="butt"/>
<line x1="1102.60" y1="1348.30" x2="1185.60" y2="1348.30" stroke="#000" stroke-width="3.6" stroke-linecap="butt"/>
<line x1="1144.10" y1="1337.40" x2="1144.10" y2="1364.10" stroke="#000" stroke-width="3.6" stroke-linecap="butt"/>
<line x1="1123.70" y1="1337.40" x2="1164.50" y2="1337.40" stroke="#000" stroke-width="3.6" stroke-linecap="round"/>
<line x1="1123.70" y1="1364.10" x2="1164.50" y2="1364.10" stroke="#000" stroke-width="3.6" stroke-linecap="round"/>
<circle cx="1144.1" cy="1327.7" r="6.1" fill="#000"/>
<circle cx="1120.2" cy="1347.2" r="6.1" fill="#000"/>
<circle cx="1108.7" cy="1355.5" r="6.1" fill="#000"/>
<circle cx="1132.1" cy="1352.6" r="6.1" fill="#000"/>
<circle cx="1144.1" cy="1350.5" r="6.1" fill="#000"/>
<circle cx="1156.0" cy="1358.1" r="6.1" fill="#000"/>
<circle cx="1167.9" cy="1349.8" r="6.1" fill="#000"/>
<circle cx="1179.5" cy="1356.3" r="6.1" fill="#000"/>
<line x1="1227.40" y1="1231.00" x2="1310.40" y2="1231.00" stroke="#000" stroke-width="3.6" stroke-linecap="butt"/>
<line x1="1268.90" y1="1225.20" x2="1268.90" y2="1238.20" stroke="#000" stroke-width="3.6" stroke-linecap="butt"/>
<line x1="1248.50" y1="1225.20" x2="1289.30" y2="1225.20" stroke="#000" stroke-width="3.6" stroke-linecap="round"/>
<line x1="1248.50" y1="1238.20" x2="1289.30" y2="1238.20" stroke="#000" stroke-width="3.6" stroke-linecap="round"/>
<circle cx="1233.1" cy="1223.4" r="6.1" fill="#000"/>
<circle cx="1233.1" cy="1236.9" r="6.1" fill="#000"/>
<circle cx="1247.2" cy="1228.9" r="6.1" fill="#000"/>
<circle cx="1261.3" cy="1222.3" r="6.1" fill="#000"/>
<circle cx="1261.3" cy="1235.4" r="6.1" fill="#000"/>
<circle cx="1275.4" cy="1233.0" r="6.1" fill="#000"/>
<circle cx="1289.6" cy="1236.9" r="6.1" fill="#000"/>
<circle cx="1303.7" cy="1234.3" r="6.1" fill="#000"/>
<line x1="1351.90" y1="1409.50" x2="1434.90" y2="1409.50" stroke="#000" stroke-width="3.6" stroke-linecap="butt"/>
<line x1="1393.40" y1="1395.60" x2="1393.40" y2="1437.30" stroke="#000" stroke-width="3.6" stroke-linecap="butt"/>
<line x1="1373.00" y1="1395.60" x2="1413.80" y2="1395.60" stroke="#000" stroke-width="3.6" stroke-linecap="round"/>
<line x1="1373.00" y1="1437.30" x2="1413.80" y2="1437.30" stroke="#000" stroke-width="3.6" stroke-linecap="round"/>
<circle cx="1381.8" cy="1390.2" r="6.1" fill="#000"/>
<circle cx="1405.1" cy="1390.2" r="6.1" fill="#000"/>
<circle cx="1381.8" cy="1408.4" r="6.1" fill="#000"/>
<circle cx="1405.1" cy="1408.4" r="6.1" fill="#000"/>
<circle cx="1381.8" cy="1424.3" r="6.1" fill="#000"/>
<circle cx="1405.1" cy="1430.2" r="6.1" fill="#000"/>
<circle cx="1358.0" cy="1432.3" r="6.1" fill="#000"/>
<circle cx="1429.0" cy="1428.6" r="6.1" fill="#000"/>
<text x="1264.60" y="1222.00" font-size="32.5" text-anchor="middle" >****</text>
<text x="1395.30" y="1375.00" font-size="32.5" text-anchor="middle" >****</text>
<text transform="translate(911 1355) rotate(-90)" font-size="29.5" text-anchor="middle">Kan<tspan font-size="21" dy="-12.3">R</tspan><tspan dy="12.3"> cfu/mL</tspan></text>
<text x="0" y="0" transform="translate(1154.90 1577.60) rotate(-37.8)" font-size="29.5" text-anchor="end" >WT</text>
<text x="0" y="0" transform="translate(1283.00 1573.40) rotate(-37.8)" font-size="29.5" text-anchor="end" ><tspan font-family="Liberation Serif, serif">Δ</tspan>4DGC</text>
<text x="0" y="0" transform="translate(1402.50 1577.40) rotate(-37.8)" font-size="29.5" text-anchor="end" ><tspan font-family="Liberation Serif, serif">Δ</tspan>2PDE</text>
<defs><filter id="nz" filterUnits="userSpaceOnUse" x="0" y="1255" width="760" height="255" color-interpolation-filters="sRGB"><feTurbulence type="fractalNoise" baseFrequency="0.2" numOctaves="2" seed="7" result="t"/><feColorMatrix in="t" type="matrix" values="0 0 0 0 1  0 0 0 0 1  0 0 0 0 1  1.0 1.0 0 0 -0.72"/></filter><filter id="b1" filterUnits="userSpaceOnUse" x="0" y="1200" width="770" height="360"><feGaussianBlur stdDeviation="1.0"/></filter><filter id="b2" filterUnits="userSpaceOnUse" x="0" y="1200" width="770" height="360"><feGaussianBlur stdDeviation="1.8"/></filter><filter id="b3" filterUnits="userSpaceOnUse" x="0" y="1200" width="770" height="360"><feGaussianBlur stdDeviation="3.0"/></filter><filter id="b9" filterUnits="userSpaceOnUse" x="0" y="1200" width="770" height="360"><feGaussianBlur stdDeviation="14"/></filter><clipPath id="cf1"><rect x="19.3" y="1263.1" width="238.4" height="238.3"/></clipPath><clipPath id="cf2"><rect x="264.1" y="1263.1" width="238.4" height="238.3"/></clipPath><clipPath id="cf3"><rect x="509.4" y="1263.1" width="238.4" height="238.3"/></clipPath></defs>
<g clip-path="url(#cf1)">
<rect x="18.8" y="1262.6" width="239.3" height="239.3" fill="#273c28"/>
<g filter="url(#b9)"><ellipse cx="120" cy="1450" rx="125" ry="48" fill="#42573f" opacity="0.5"/><ellipse cx="150" cy="1385" rx="95" ry="55" fill="#3a4840" opacity="0.3"/></g>
<rect x="18.8" y="1262.6" width="239.3" height="239.3" fill="#cfe0d0" filter="url(#nz)" opacity="0.1"/>
<g filter="url(#b3)" opacity="0.92"><path d="M74.7 1383.5 C80.9 1383.5 100.4 1382.6 111.7 1383.5 C123.0 1384.5 133.1 1386.2 142.6 1389.2 C152.0 1392.2 159.4 1396.1 168.3 1401.5 C177.2 1406.9 191.4 1418.3 196.1 1421.6" fill="none" stroke="#000" stroke-width="22.6" stroke-linecap="round" stroke-linejoin="round" opacity="1"/></g>
<g filter="url(#b2)" opacity="0.55"><path d="M77.8 1346.5 C78.3 1347.8 80.7 1351.6 80.9 1354.2 C81.0 1356.9 80.4 1359.8 78.8 1362.5 C77.2 1365.1 72.4 1368.9 71.1 1370.2" fill="none" stroke="#000" stroke-width="14.9" stroke-linecap="round" stroke-linejoin="round" opacity="1"/><ellipse cx="79.3" cy="1383.5" rx="9.0" ry="7.5" transform="rotate(0 79.3 1383.5)" fill="#000" opacity="1"/><ellipse cx="105.5" cy="1384.3" rx="9.6" ry="7.3" transform="rotate(0 105.5 1384.3)" fill="#000" opacity="1"/><ellipse cx="69.0" cy="1396.4" rx="6.5" ry="6.3" transform="rotate(0 69.0 1396.4)" fill="#000" opacity="0.7"/><ellipse cx="115.8" cy="1339.0" rx="5.3" ry="5.3" transform="rotate(0 115.8 1339.0)" fill="#000" opacity="0.25"/><path d="M115.8 1364.5 C116.9 1363.3 119.1 1359.1 122.5 1357.3 C125.9 1355.6 134.1 1354.6 136.4 1354.0" fill="none" stroke="#000" stroke-width="13.8" stroke-linecap="round" stroke-linejoin="round" opacity="1"/><path d="M154.4 1369.3 C155.9 1369.9 160.1 1373.6 163.1 1373.0 C166.1 1372.3 170.9 1366.9 172.4 1365.7" fill="none" stroke="#000" stroke-width="13.0" stroke-linecap="round" stroke-linejoin="round" opacity="1"/><path d="M163.1 1373.0 C162.8 1374.8 161.2 1380.8 161.3 1384.1 C161.4 1387.4 163.5 1391.3 164.0 1392.8" fill="none" stroke="#000" stroke-width="13.8" stroke-linecap="round" stroke-linejoin="round" opacity="1"/><path d="M165.7 1327.7 C166.7 1329.2 168.9 1333.5 171.4 1336.9 C173.9 1340.4 178.3 1344.2 180.6 1348.3 C183.0 1352.3 184.8 1356.7 185.6 1361.4 C186.3 1366.2 184.8 1372.4 185.0 1376.9 C185.1 1381.3 185.8 1385.1 186.3 1388.2 C186.7 1391.3 187.4 1394.2 187.6 1395.4" fill="none" stroke="#000" stroke-width="14.4" stroke-linecap="round" stroke-linejoin="round" opacity="1"/><ellipse cx="150.8" cy="1415.9" rx="9.2" ry="9.2" transform="rotate(0 150.8 1415.9)" fill="#000" opacity="1"/><path d="M178.6 1418.0 C180.3 1416.0 182.7 1407.8 188.9 1405.9 C195.0 1403.9 211.1 1406.4 215.6 1406.5" fill="none" stroke="#000" stroke-width="13.6" stroke-linecap="round" stroke-linejoin="round" opacity="1"/><ellipse cx="203.3" cy="1423.1" rx="8.1" ry="9.4" transform="rotate(-20 203.3 1423.1)" fill="#000" opacity="1"/></g>
<g filter="url(#b1)"><path d="M77.8 1346.5 C78.3 1347.8 80.7 1351.6 80.9 1354.2 C81.0 1356.9 80.4 1359.8 78.8 1362.5 C77.2 1365.1 72.4 1368.9 71.1 1370.2" fill="none" stroke="#2fea3e" stroke-width="9.4" stroke-linecap="round" stroke-linejoin="round" opacity="1"/><ellipse cx="79.3" cy="1383.5" rx="6.2" ry="4.7" transform="rotate(0 79.3 1383.5)" fill="#2fea3e" opacity="1"/><ellipse cx="105.5" cy="1384.3" rx="6.8" ry="4.5" transform="rotate(0 105.5 1384.3)" fill="#2fea3e" opacity="1"/><ellipse cx="69.0" cy="1396.4" rx="3.7" ry="3.5" transform="rotate(0 69.0 1396.4)" fill="#2fea3e" opacity="0.7"/><ellipse cx="115.8" cy="1339.0" rx="2.5" ry="2.5" transform="rotate(0 115.8 1339.0)" fill="#2fea3e" opacity="0.25"/><path d="M115.8 1364.5 C116.9 1363.3 119.1 1359.1 122.5 1357.3 C125.9 1355.6 134.1 1354.6 136.4 1354.0" fill="none" stroke="#2fea3e" stroke-width="8.3" stroke-linecap="round" stroke-linejoin="round" opacity="1"/><path d="M154.4 1369.3 C155.9 1369.9 160.1 1373.6 163.1 1373.0 C166.1 1372.3 170.9 1366.9 172.4 1365.7" fill="none" stroke="#2fea3e" stroke-width="7.5" stroke-linecap="round" stroke-linejoin="round" opacity="1"/><path d="M163.1 1373.0 C162.8 1374.8 161.2 1380.8 161.3 1384.1 C161.4 1387.4 163.5 1391.3 164.0 1392.8" fill="none" stroke="#2fea3e" stroke-width="8.3" stroke-linecap="round" stroke-linejoin="round" opacity="1"/><path d="M165.7 1327.7 C166.7 1329.2 168.9 1333.5 171.4 1336.9 C173.9 1340.4 178.3 1344.2 180.6 1348.3 C183.0 1352.3 184.8 1356.7 185.6 1361.4 C186.3 1366.2 184.8 1372.4 185.0 1376.9 C185.1 1381.3 185.8 1385.1 186.3 1388.2 C186.7 1391.3 187.4 1394.2 187.6 1395.4" fill="none" stroke="#2fea3e" stroke-width="8.9" stroke-linecap="round" stroke-linejoin="round" opacity="1"/><ellipse cx="150.8" cy="1415.9" rx="6.4" ry="6.4" transform="rotate(0 150.8 1415.9)" fill="#2fea3e" opacity="1"/><path d="M178.6 1418.0 C180.3 1416.0 182.7 1407.8 188.9 1405.9 C195.0 1403.9 211.1 1406.4 215.6 1406.5" fill="none" stroke="#2fea3e" stroke-width="8.1" stroke-linecap="round" stroke-linejoin="round" opacity="1"/><ellipse cx="203.3" cy="1423.1" rx="5.3" ry="6.6" transform="rotate(-20 203.3 1423.1)" fill="#2fea3e" opacity="1"/></g>
<rect x="176.4" y="1484.8" width="68.7" height="6.6" fill="#fff"/>
<rect x="19.3" y="1263.1" width="238.3" height="238.3" fill="none" stroke="#16281a" stroke-width="1" opacity="0.6"/>
</g>
<g clip-path="url(#cf2)">
<rect x="263.6" y="1262.6" width="239.3" height="239.3" fill="#273c29"/>
<g filter="url(#b9)"><ellipse cx="385" cy="1400" rx="125" ry="65" fill="#40543f" opacity="0.42"/></g>
<rect x="263.6" y="1262.6" width="239.3" height="239.3" fill="#cfe0d0" filter="url(#nz)" opacity="0.1"/>
<g filter="url(#b3)" opacity="0.92"><path d="M331.1 1418.0 C336.3 1414.4 350.0 1404.3 362.0 1396.4 C374.0 1388.5 388.7 1379.8 403.1 1370.7 C417.5 1361.6 440.9 1346.7 448.4 1341.9" fill="none" stroke="#000" stroke-width="26.2" stroke-linecap="round" stroke-linejoin="round" opacity="1"/></g>
<g filter="url(#b2)" opacity="0.55"><path d="M303.9 1421.6 L317.3 1430.3" fill="none" stroke="#000" stroke-width="15.6" stroke-linecap="round" stroke-linejoin="round" opacity="1"/><ellipse cx="325.0" cy="1422.1" rx="7.9" ry="8.3" transform="rotate(0 325.0 1422.1)" fill="#000" opacity="1"/><ellipse cx="342.5" cy="1433.4" rx="9.0" ry="10.2" transform="rotate(30 342.5 1433.4)" fill="#000" opacity="1"/><ellipse cx="359.9" cy="1418.0" rx="8.7" ry="10.7" transform="rotate(10 359.9 1418.0)" fill="#000" opacity="1"/><ellipse cx="364.3" cy="1409.0" rx="9.0" ry="7.1" transform="rotate(0 364.3 1409.0)" fill="#000" opacity="1"/><ellipse cx="350.7" cy="1376.9" rx="8.3" ry="12.8" transform="rotate(-30 350.7 1376.9)" fill="#000" opacity="1"/><ellipse cx="372.3" cy="1374.8" rx="8.7" ry="12.5" transform="rotate(-48 372.3 1374.8)" fill="#000" opacity="1"/><ellipse cx="386.2" cy="1389.7" rx="8.6" ry="9.2" transform="rotate(0 386.2 1389.7)" fill="#000" opacity="1"/><ellipse cx="403.7" cy="1359.9" rx="8.6" ry="10.2" transform="rotate(0 403.7 1359.9)" fill="#000" opacity="1"/><ellipse cx="420.1" cy="1363.5" rx="7.9" ry="11.7" transform="rotate(-5 420.1 1363.5)" fill="#000" opacity="1"/><ellipse cx="411.4" cy="1386.3" rx="8.1" ry="9.8" transform="rotate(0 411.4 1386.3)" fill="#000" opacity="1"/><ellipse cx="422.2" cy="1381.5" rx="6.1" ry="6.1" transform="rotate(0 422.2 1381.5)" fill="#000" opacity="0.6"/><ellipse cx="445.3" cy="1340.9" rx="8.7" ry="12.5" transform="rotate(30 445.3 1340.9)" fill="#000" opacity="1"/><ellipse cx="462.8" cy="1333.1" rx="10.7" ry="8.7" transform="rotate(0 462.8 1333.1)" fill="#000" opacity="1"/><ellipse cx="380.5" cy="1357.3" rx="9.2" ry="7.6" transform="rotate(0 380.5 1357.3)" fill="#000" opacity="0.22"/></g>
<g filter="url(#b1)"><path d="M303.9 1421.6 L317.3 1430.3" fill="none" stroke="#2fea3e" stroke-width="10.1" stroke-linecap="round" stroke-linejoin="round" opacity="1"/><ellipse cx="325.0" cy="1422.1" rx="5.1" ry="5.5" transform="rotate(0 325.0 1422.1)" fill="#2fea3e" opacity="1"/><ellipse cx="342.5" cy="1433.4" rx="6.2" ry="7.4" transform="rotate(30 342.5 1433.4)" fill="#2fea3e" opacity="1"/><ellipse cx="359.9" cy="1418.0" rx="5.9" ry="7.9" transform="rotate(10 359.9 1418.0)" fill="#2fea3e" opacity="1"/><ellipse cx="364.3" cy="1409.0" rx="6.2" ry="4.3" transform="rotate(0 364.3 1409.0)" fill="#2fea3e" opacity="1"/><ellipse cx="350.7" cy="1376.9" rx="5.5" ry="10.0" transform="rotate(-30 350.7 1376.9)" fill="#2fea3e" opacity="1"/><ellipse cx="372.3" cy="1374.8" rx="5.9" ry="9.7" transform="rotate(-48 372.3 1374.8)" fill="#2fea3e" opacity="1"/><ellipse cx="386.2" cy="1389.7" rx="5.8" ry="6.4" transform="rotate(0 386.2 1389.7)" fill="#2fea3e" opacity="1"/><ellipse cx="403.7" cy="1359.9" rx="5.8" ry="7.4" transform="rotate(0 403.7 1359.9)" fill="#2fea3e" opacity="1"/><ellipse cx="420.1" cy="1363.5" rx="5.1" ry="8.9" transform="rotate(-5 420.1 1363.5)" fill="#2fea3e" opacity="1"/><ellipse cx="411.4" cy="1386.3" rx="5.3" ry="7.0" transform="rotate(0 411.4 1386.3)" fill="#2fea3e" opacity="1"/><ellipse cx="422.2" cy="1381.5" rx="3.3" ry="3.3" transform="rotate(0 422.2 1381.5)" fill="#2fea3e" opacity="0.6"/><ellipse cx="445.3" cy="1340.9" rx="5.9" ry="9.7" transform="rotate(30 445.3 1340.9)" fill="#2fea3e" opacity="1"/><ellipse cx="462.8" cy="1333.1" rx="7.9" ry="5.9" transform="rotate(0 462.8 1333.1)" fill="#2fea3e" opacity="1"/><ellipse cx="380.5" cy="1357.3" rx="6.4" ry="4.8" transform="rotate(0 380.5 1357.3)" fill="#2fea3e" opacity="0.22"/></g>
<rect x="419.3" y="1484.8" width="68.7" height="6.6" fill="#fff"/>
<rect x="264.1" y="1263.1" width="238.3" height="238.3" fill="none" stroke="#16281a" stroke-width="1" opacity="0.6"/>
</g>
<g clip-path="url(#cf3)">
<rect x="508.9" y="1262.6" width="239.3" height="239.3" fill="#262b26"/>
<g filter="url(#b9)"><ellipse cx="635" cy="1395" rx="70" ry="85" fill="#464a46" opacity="0.5"/><ellipse cx="690" cy="1380" rx="50" ry="100" fill="#383d38" opacity="0.4"/></g>
<rect x="508.9" y="1262.6" width="239.3" height="239.3" fill="#cfe0d0" filter="url(#nz)" opacity="0.07"/>
<g filter="url(#b3)" opacity="0.92"><path d="M600.5 1318.9 C603.5 1324.8 612.4 1342.7 618.4 1354.7 C624.4 1366.6 633.3 1384.5 636.3 1390.5" fill="none" stroke="#000" stroke-width="21.8" stroke-linecap="round" stroke-linejoin="round" opacity="1"/><path d="M664.3 1360.9 C663.4 1367.9 662.1 1390.8 658.9 1403.0 C655.6 1415.2 649.7 1425.0 644.9 1434.1 C640.1 1443.2 632.5 1453.6 630.1 1457.5" fill="none" stroke="#000" stroke-width="21.8" stroke-linecap="round" stroke-linejoin="round" opacity="1"/></g>
<g filter="url(#b2)" opacity="0.55"><ellipse cx="605.1" cy="1301.4" rx="6.9" ry="6.9" transform="rotate(0 605.1 1301.4)" fill="#000" opacity="1"/><path d="M617.6 1315.7 L632.4 1314.2" fill="none" stroke="#000" stroke-width="9.8" stroke-linecap="round" stroke-linejoin="round" opacity="1"/><path d="M582.9 1318.1 C583.5 1320.6 587.0 1326.8 586.4 1332.9 C585.9 1339.0 580.9 1351.1 579.8 1354.7" fill="none" stroke="#000" stroke-width="10.8" stroke-linecap="round" stroke-linejoin="round" opacity="1"/><path d="M647.2 1358.6 L651.9 1378.1" fill="none" stroke="#000" stroke-width="10.3" stroke-linecap="round" stroke-linejoin="round" opacity="1"/><path d="M669.0 1392.9 L679.1 1420.9" fill="none" stroke="#000" stroke-width="10.3" stroke-linecap="round" stroke-linejoin="round" opacity="1"/><ellipse cx="612.9" cy="1447.4" rx="7.7" ry="9.5" transform="rotate(-20 612.9 1447.4)" fill="#000" opacity="1"/><ellipse cx="637.9" cy="1457.5" rx="6.4" ry="5.8" transform="rotate(0 637.9 1457.5)" fill="#000" opacity="0.8"/><ellipse cx="650.3" cy="1444.3" rx="6.0" ry="5.6" transform="rotate(0 650.3 1444.3)" fill="#000" opacity="0.7"/><ellipse cx="649.8" cy="1455.9" rx="5.5" ry="5.5" transform="rotate(0 649.8 1455.9)" fill="#000" opacity="0.6"/><ellipse cx="642.5" cy="1430.2" rx="5.8" ry="5.8" transform="rotate(0 642.5 1430.2)" fill="#000" opacity="0.45"/><ellipse cx="626.5" cy="1330.5" rx="5.2" ry="5.2" transform="rotate(0 626.5 1330.5)" fill="#000" opacity="0.4"/><ellipse cx="610.9" cy="1364.8" rx="5.2" ry="5.8" transform="rotate(0 610.9 1364.8)" fill="#000" opacity="0.4"/></g>
<g filter="url(#b1)"><ellipse cx="605.1" cy="1301.4" rx="4.1" ry="4.1" transform="rotate(0 605.1 1301.4)" fill="#2fea3e" opacity="1"/><path d="M617.6 1315.7 L632.4 1314.2" fill="none" stroke="#2fea3e" stroke-width="4.3" stroke-linecap="round" stroke-linejoin="round" opacity="1"/><path d="M582.9 1318.1 C583.5 1320.6 587.0 1326.8 586.4 1332.9 C585.9 1339.0 580.9 1351.1 579.8 1354.7" fill="none" stroke="#2fea3e" stroke-width="5.3" stroke-linecap="round" stroke-linejoin="round" opacity="1"/><path d="M647.2 1358.6 L651.9 1378.1" fill="none" stroke="#2fea3e" stroke-width="4.8" stroke-linecap="round" stroke-linejoin="round" opacity="1"/><path d="M669.0 1392.9 L679.1 1420.9" fill="none" stroke="#2fea3e" stroke-width="4.8" stroke-linecap="round" stroke-linejoin="round" opacity="1"/><ellipse cx="612.9" cy="1447.4" rx="4.9" ry="6.7" transform="rotate(-20 612.9 1447.4)" fill="#2fea3e" opacity="1"/><ellipse cx="637.9" cy="1457.5" rx="3.6" ry="3.0" transform="rotate(0 637.9 1457.5)" fill="#2fea3e" opacity="0.8"/><ellipse cx="650.3" cy="1444.3" rx="3.2" ry="2.8" transform="rotate(0 650.3 1444.3)" fill="#2fea3e" opacity="0.7"/><ellipse cx="649.8" cy="1455.9" rx="2.7" ry="2.7" transform="rotate(0 649.8 1455.9)" fill="#2fea3e" opacity="0.6"/><ellipse cx="642.5" cy="1430.2" rx="3.0" ry="3.0" transform="rotate(0 642.5 1430.2)" fill="#2fea3e" opacity="0.45"/><ellipse cx="626.5" cy="1330.5" rx="2.4" ry="2.4" transform="rotate(0 626.5 1330.5)" fill="#2fea3e" opacity="0.4"/><ellipse cx="610.9" cy="1364.8" rx="2.4" ry="3.0" transform="rotate(0 610.9 1364.8)" fill="#2fea3e" opacity="0.4"/></g>
<rect x="664.3" y="1484.8" width="68.7" height="6.6" fill="#fff"/>
<rect x="509.4" y="1263.1" width="238.3" height="238.3" fill="none" stroke="#16281a" stroke-width="1" opacity="0.6"/>
</g>
<text x="138.20" y="1252.30" font-size="29.5" text-anchor="middle" >WT</text>
<text x="383.30" y="1250.50" font-size="29.5" text-anchor="middle" ><tspan font-family="Liberation Serif, serif">Δ</tspan>4DGC</text>
<text x="627.10" y="1250.50" font-size="29.5" text-anchor="middle" ><tspan font-family="Liberation Serif, serif">Δ</tspan>2PDE</text>
</svg>
</body></html>
